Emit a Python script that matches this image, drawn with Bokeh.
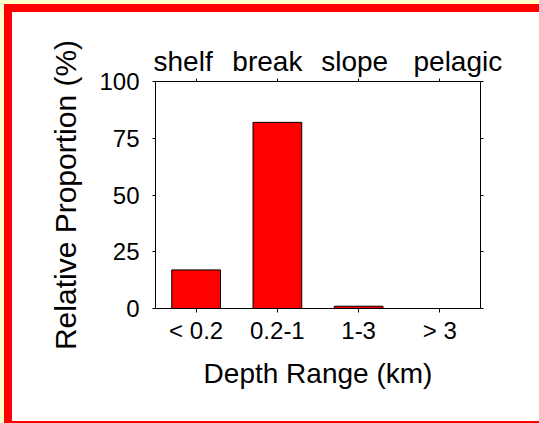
from bokeh.plotting import figure
from bokeh.embed import file_html
from bokeh.resources import INLINE
from bokeh.models import (ColumnDataSource, LinearAxis, FixedTicker, Range1d,
                          GlobalInlineStyleSheet)

# ---- data ----
categories = ["< 0.2", "0.2-1", "1-3", "> 3"]
zones = ["shelf", "break", "slope", "pelagic"]
proportion = [17, 82, 1, 0]
y_ticks = [0, 25, 50, 75, 100]

# ---- styles ----
FONT = "Liberation Sans"
TICK_FS = "24px"
XLABEL_FS = "28px"
YLABEL_FS = "30px"
ZONE_FS = "28px"
zone_px_offsets = [-13, -10, -4, 18]

positions = list(range(1, len(categories) + 1))
src = ColumnDataSource(dict(x=positions, top=proportion))

css = GlobalInlineStyleSheet(css="html,body{background:#ffffcc;overflow:hidden;} body{margin:4px 0 0 4px;}")

W, H = 535, 419
BL, BR, BT, BB = 151, 59, 77, 115
p = figure(width=W, height=H, output_backend="svg", toolbar_location=None,
           x_range=Range1d(0.5, len(categories) + 0.5), y_range=Range1d(0, 100),
           x_axis_location=None, y_axis_location=None,
           min_border_left=BL, min_border_right=BR, min_border_top=BT, min_border_bottom=BB,
           background_fill_color="white", border_fill_color=None,
           stylesheets=[css],
           styles={"background": "white",
                   "box-shadow": "inset 8px 0 0 0 red, inset 0 8px 0 0 red, inset 0 -2px 0 0 red"})
p.outline_line_color = None
p.grid.visible = False

p.vbar(x="x", top="top", width=0.6, source=src, fill_color="red",
       line_color="black", line_width=1)


def style_axis(ax, tick_out, fs, label_fs=XLABEL_FS):
    ax.axis_line_color = "black"
    ax.axis_line_width = 1
    ax.major_tick_line_color = "black"
    ax.major_tick_in = 0
    ax.major_tick_out = tick_out
    ax.minor_tick_line_color = None
    ax.major_label_text_font = FONT
    ax.major_label_text_color = "black"
    ax.major_label_text_font_size = fs
    ax.axis_label_text_font = FONT
    ax.axis_label_text_font_size = label_fs
    ax.axis_label_text_font_style = "normal"
    ax.axis_label_text_color = "black"


left = LinearAxis(ticker=FixedTicker(ticks=y_ticks), axis_label="Relative Proportion (%)")
style_axis(left, 3, TICK_FS, YLABEL_FS)
left.major_label_standoff = 13
left.axis_label_standoff = 14
p.add_layout(left, "left")

right = LinearAxis(ticker=FixedTicker(ticks=y_ticks),
                   major_label_overrides={t: "" for t in y_ticks})
style_axis(right, 3, TICK_FS)
p.add_layout(right, "right")

bottom = LinearAxis(ticker=FixedTicker(ticks=positions), axis_label="Depth Range (km)",
                    major_label_overrides={pos: c for pos, c in zip(positions, categories)})
style_axis(bottom, 4, TICK_FS, XLABEL_FS)
bottom.major_label_standoff = 4
bottom.axis_label_standoff = 11
p.add_layout(bottom, "below")

# top axis: ticks only
top = LinearAxis(ticker=FixedTicker(ticks=positions),
                 major_label_overrides={pos: "" for pos in positions})
style_axis(top, 3, "2px")
top.major_label_standoff = 0
p.add_layout(top, "above")

# zone names above the top axis
px_per_unit = (W - BL - BR) / len(categories)
zone_pos = [pos + off / px_per_unit for pos, off in zip(positions, zone_px_offsets)]
zone_axis = LinearAxis(ticker=FixedTicker(ticks=zone_pos),
                       major_label_overrides={zp: z for zp, z in zip(zone_pos, zones)})
style_axis(zone_axis, 0, ZONE_FS)
zone_axis.axis_line_color = None
zone_axis.major_tick_line_color = None
zone_axis.major_label_standoff = 2
p.add_layout(zone_axis, "above")

open("out.html", "w").write(file_html(p, INLINE))
